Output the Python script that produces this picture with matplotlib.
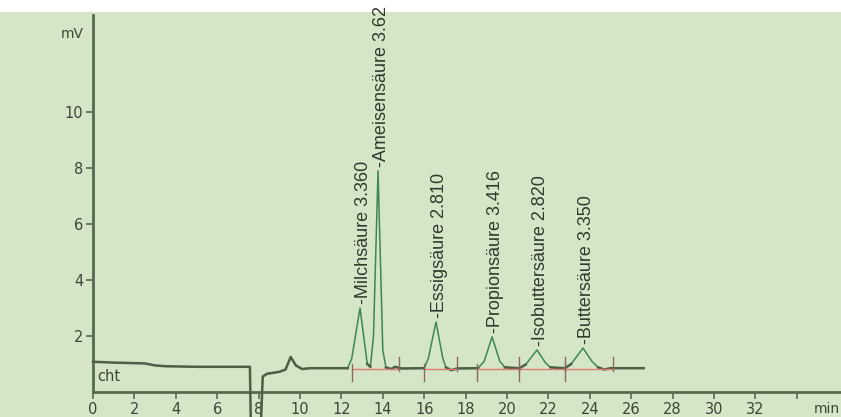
import matplotlib
matplotlib.use("Agg")
import matplotlib.pyplot as plt
import numpy as np
from matplotlib.patches import Rectangle

# ---- data ----
trace1_t = [0.0, 1.0, 2.5, 3.0, 3.5, 5.0, 7.0, 7.58, 7.62]
trace1_v = [1.08, 1.05, 1.02, 0.95, 0.92, 0.90, 0.90, 0.90, -0.95]

trace2_t = [8.12, 8.2, 8.4, 9.0, 9.3, 9.55, 9.8, 10.1, 10.5, 12.3, 12.5, 12.9, 13.25,
            13.4, 13.55, 13.77, 14.0, 14.15, 14.4, 14.6, 14.9, 16.0, 16.2, 16.57,
            16.9, 17.05, 17.3, 17.6, 18.6, 18.9, 19.28, 19.65, 19.9, 20.6, 20.9,
            21.45, 21.85, 22.1, 22.8, 23.1, 23.67, 24.1, 24.4, 24.7, 25.0, 26.6]
trace2_v = [-0.95, 0.55, 0.65, 0.72, 0.80, 1.25, 0.95, 0.82, 0.85, 0.85, 1.2, 3.0, 1.0,
            0.9, 2.0, 7.9, 1.5, 0.88, 0.82, 0.9, 0.84, 0.85, 1.2, 2.5,
            1.2, 0.88, 0.78, 0.84, 0.85, 1.1, 1.97, 1.1, 0.88, 0.85, 0.98,
            1.5, 1.05, 0.88, 0.85, 1.0, 1.57, 1.1, 0.88, 0.8, 0.85, 0.85]

peak_times = [12.9, 13.77, 16.57, 19.28, 21.45, 23.67]
peak_heights = [3.0, 7.9, 2.5, 1.97, 1.5, 1.57]
peak_names = ["Milchsäure 3.360", "Ameisensäure 3.62", "Essigsäure 2.810",
              "Propionsäure 3.416", "Isobuttersäure 2.820", "Buttersäure 3.350"]

integ_start = [12.5, 16.0, 18.55, 20.6, 22.8]
integ_end = [14.8, 17.6, 20.6, 22.8, 25.1]
integ_level = 0.85

xticks = [0, 2, 4, 6, 8, 10, 12, 14, 16, 18, 20, 22, 24, 26, 28, 30, 32, 34]
xticklabels = ["0", "2", "4", "6", "8", "10", "12", "14", "16", "18", "20", "22",
               "24", "26", "28", "30", "32", ""]
yticks = [2, 4, 6, 8, 10]

# ---- styling ----
bg = "#d5e6c8"
axis_col = "#556b4f"
line_col = "#4d5f47"
peak_col = "#3f8656"
red_col = "#e07a72"
txt_col = "#3c4638"

W, H = 841, 417
fig = plt.figure(figsize=(W / 100, H / 100), dpi=100, facecolor="white")
fig.patches.append(Rectangle((0, 0), 1, (H - 12) / H, transform=fig.transFigure,
                             facecolor=bg, edgecolor="none", zorder=-10))

x0, ytop, yaxis = 93, 15, 392
ppm, ppu = 20.7, 28.0
ax = fig.add_axes([x0 / W, 0, 1 - x0 / W, (H - ytop) / H])
ax.set_facecolor("none")
ax.set_xlim(0, (W - x0) / ppm)
ax.set_ylim(-(H - yaxis) / ppu, (yaxis - ytop) / ppu)

for s in ["top", "right"]:
    ax.spines[s].set_visible(False)
ax.spines["bottom"].set_position(("data", 0))
ax.spines["left"].set_bounds(0, (yaxis - ytop) / ppu)
for s in ["bottom", "left"]:
    ax.spines[s].set_color(axis_col)
    ax.spines[s].set_linewidth(2.0)

ax.set_xticks(xticks)
ax.set_xticklabels(xticklabels)
ax.set_yticks(yticks)
ax.tick_params(axis="both", colors=axis_col, labelcolor=txt_col, labelsize=10.5,
               length=5, width=1.2, direction="out", pad=2)

# trace
ax.plot(trace1_t, trace1_v, color=line_col, lw=1.8, clip_on=False, zorder=3)
t2 = np.array(trace2_t)
v2 = np.array(trace2_v)
ax.plot(t2, v2, color=peak_col, lw=1.1, zorder=3)
base_mask = np.ma.masked_where((v2 > 1.0) & (t2 > 10.5), v2)
ax.plot(t2, base_mask, color=line_col, lw=1.8, zorder=3)

# integration baselines
for a, b in zip(integ_start, integ_end):
    ax.plot([a, b], [integ_level - 0.04, integ_level - 0.04], color=red_col, lw=1.0, zorder=4)
    ax.plot([a, a], [integ_level - 0.45, integ_level + 0.15], color="#8a6a60", lw=1.0, zorder=4)
    ax.plot([b, b], [integ_level - 0.1, integ_level + 0.4], color="#8a6a60", lw=1.0, zorder=4)

# peak labels
for t, h, name in zip(peak_times, peak_heights, peak_names):
    ax.text(t + 0.15, h + 0.15, "-" + name, rotation=90, ha="center", va="bottom",
            fontsize=13, family="Liberation Sans", color="#2f3a2c",
            clip_on=False, zorder=5)

ax.text(-1.0, 12.8, "mV", fontsize=10, color=txt_col, ha="center", va="center")
ax.text(0.2, 0.55, "cht", fontsize=10.5, color=txt_col, ha="left", va="center")
ax.text(0.999, -0.62, "min", fontsize=10, color=txt_col, ha="right", va="center",
        transform=ax.get_yaxis_transform(), clip_on=False)

fig.savefig("out.png", dpi=100, facecolor=fig.get_facecolor())
